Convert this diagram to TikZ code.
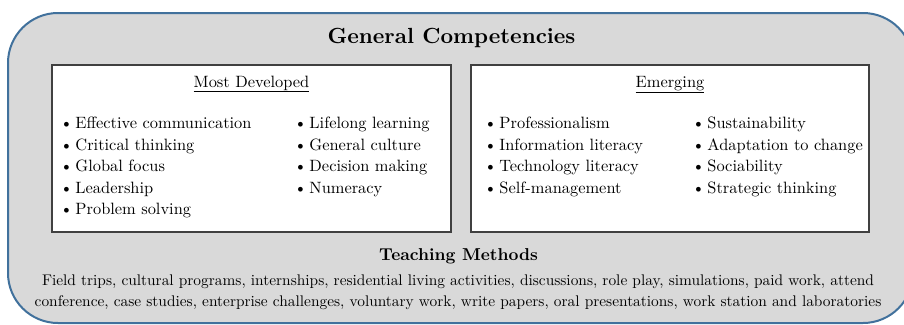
\documentclass[tikz,border=0pt]{standalone}
\usepackage{fontspec}
\setmainfont{lmroman10}[Extension=.otf,UprightFont=*-regular,BoldFont=*-bold,ItalicFont=*-italic,BoldItalicFont=*-bolditalic]
\usetikzlibrary{positioning}
\definecolor{panelgray}{RGB}{217,217,217}
\definecolor{edgeblue}{RGB}{65,113,156}
\definecolor{boxline}{RGB}{64,64,64}

\begin{document}
\begin{tikzpicture}[x=1pt,y=-1pt,
  outer/.style={draw=edgeblue,line width=2pt,fill=panelgray,rounded corners=50pt},
  panel/.style={draw=boxline,line width=1.3pt,fill=white,inner sep=0pt},
  itemtext/.style={anchor=base west,inner sep=0pt,font=\fontsize{16.4}{20}\selectfont},
  heading/.style={anchor=base,inner sep=0pt,font=\fontsize{16.4}{20}\selectfont},
  methtext/.style={anchor=base,inner sep=0pt,font=\fontsize{15.4}{20}\selectfont},
  bigtitle/.style={anchor=base,inner sep=0pt,font=\fontsize{21.9}{26}\selectfont\bfseries},
  subtitle/.style={anchor=base,inner sep=0pt,font=\fontsize{17.2}{22}\selectfont\bfseries}]
\useasboundingbox (0,0) rectangle (904,324);
% grey frame, runs past the right edge
\begin{scope}
  \clip (0,0) rectangle (904,324);
  \draw[outer] (8,13) rectangle (913,323);
\end{scope}

\node[bigtitle] (title) at (451.5,43) {General Competencies};

% the two boxes
\node[panel,minimum width=399pt,minimum height=167pt] (mostbox) at (251.5,148.5) {};
\node[panel,minimum width=398pt,minimum height=167pt] (emergbox) at (670,148.5) {};

\node[heading] (mosthead) at (251.5,87) {\underline{Most Developed}};
\node[heading] (emerghead) at (670,87) {\underline{Emerging}};

\foreach \txt [count=\i] in {Effective communication,Critical thinking,Global focus,Leadership,Problem solving}
  \node[itemtext] (mostA\i) at (60,107.5+21.4*\i) {\textbullet\kern2.5pt\txt};
\foreach \txt [count=\i] in {Lifelong learning,General culture,Decision making,Numeracy}
  \node[itemtext] (mostB\i) at (294,107.5+21.4*\i) {\textbullet\kern2.5pt\txt};
\foreach \txt [count=\i] in {Professionalism,Information literacy,Technology literacy,Self-management}
  \node[itemtext] (emergA\i) at (484,107.5+21.4*\i) {\textbullet\kern2.5pt\txt};
\foreach \txt [count=\i] in {Sustainability,Adaptation to change,Sociability,Strategic thinking}
  \node[itemtext] (emergB\i) at (692,107.5+21.4*\i) {\textbullet\kern2.5pt\txt};

% teaching methods
\node[subtitle] (methhead) at (458.5,260) {Teaching Methods};
\node[methtext] (methA) at (458,285) {Field trips, cultural programs, internships, residential living activities, discussions, role play, simulations, paid work, attend};
\node[methtext] (methB) at (458,306.5) {conference, case studies, enterprise challenges, voluntary work, write papers, oral presentations, work station and laboratories};
\end{tikzpicture}
\end{document}
